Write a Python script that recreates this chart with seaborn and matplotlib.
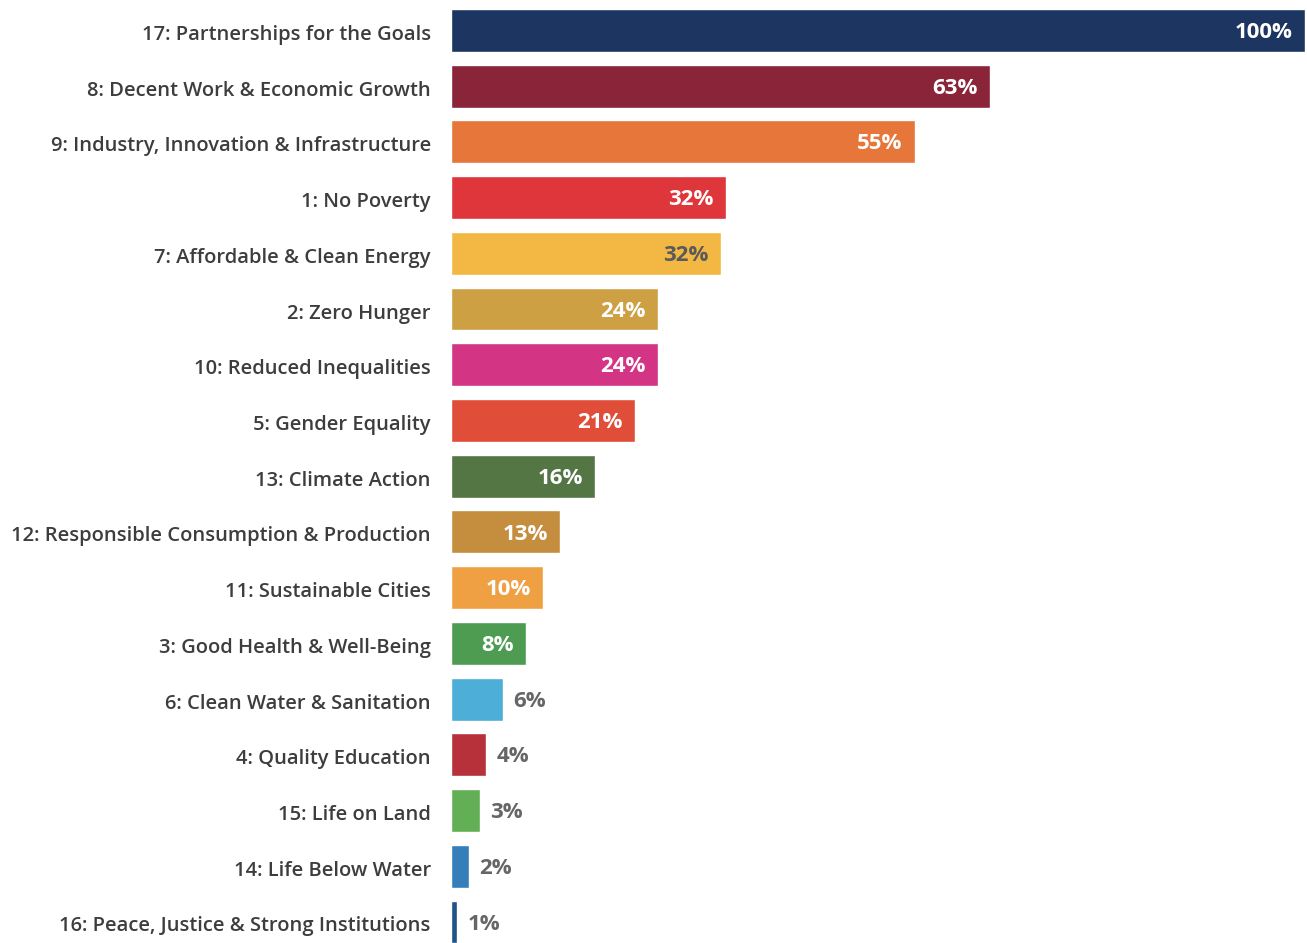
"""
SDG share bar chart
"""

import pandas as pd
import matplotlib.pyplot as plt
import matplotlib.transforms as mtrans
import seaborn as sns

goals = [
    "17: Partnerships for the Goals",
    "8: Decent Work & Economic Growth",
    "9: Industry, Innovation & Infrastructure",
    "1: No Poverty",
    "7: Affordable & Clean Energy",
    "2: Zero Hunger",
    "10: Reduced Inequalities",
    "5: Gender Equality",
    "13: Climate Action",
    "12: Responsible Consumption & Production",
    "11: Sustainable Cities",
    "3: Good Health & Well-Being",
    "6: Clean Water & Sanitation",
    "4: Quality Education",
    "15: Life on Land",
    "14: Life Below Water",
    "16: Peace, Justice & Strong Institutions",
]
share = [100, 63.1, 54.3, 32.2, 31.6, 24.2, 24.2, 21.5, 16.9, 12.8,
         10.8, 8.8, 6.1, 4.1, 3.4, 2.1, 0.7]
share_labels = ["100%", "63%", "55%", "32%", "32%", "24%", "24%", "21%", "16%",
                "13%", "10%", "8%", "6%", "4%", "3%", "2%", "1%"]
colors = ["#1C3661", "#8A2439", "#E6763A", "#DE363B", "#F3B844", "#CDA043",
          "#D33584", "#E04E3A", "#537644", "#C58E3F", "#EFA043", "#4D9C51",
          "#4DAED8", "#B6313A", "#62AF55", "#357EBA", "#1F5389"]

df = pd.DataFrame({"goal": goals, "share": share})

sns.set_style("white")
plt.rcParams['font.family'] = ['Open Sans', 'DejaVu Sans']

fig = plt.figure(figsize=(13.07, 9.43), dpi=100)
ax = fig.add_axes([451 / 1307, 0, 856 / 1307, 1])

sns.barplot(data=df, x="share", y="goal", hue="goal", palette=colors,
            orient="h", width=0.77, legend=False, ax=ax, saturation=1)

ax.set_xlim(0, 100 * 856 / 854)
ax.set_ylim(16.377, -0.546)
ax.set_xlabel("")
ax.set_ylabel("")
ax.set_xticks([])
ax.tick_params(axis="y", length=0, pad=14.5, labelsize=14.5, labelcolor="#3d3d3d")
shift = mtrans.ScaledTranslation(0, -2 / 100, fig.dpi_scale_trans)
for t in ax.get_yticklabels():
    t.set_fontweight("semibold")
    t.set_transform(t.get_transform() + shift)
sns.despine(ax=ax, left=True, bottom=True)

# labels on bars
for i, (v, lab) in enumerate(zip(share, share_labels)):
    if v >= 8:
        col = "#5a5a5a" if goals[i].startswith("7:") else "white"
        ax.annotate(lab, (v, i), xytext=(-9, -1.5), textcoords="offset points",
                    ha="right", va="center", color=col, fontsize=16,
                    fontweight="bold")
    else:
        ax.annotate(lab, (v, i), xytext=(7.5, -1.5), textcoords="offset points",
                    ha="left", va="center", color="#666666", fontsize=16,
                    fontweight="bold")

plt.savefig("out.png", dpi=100)
